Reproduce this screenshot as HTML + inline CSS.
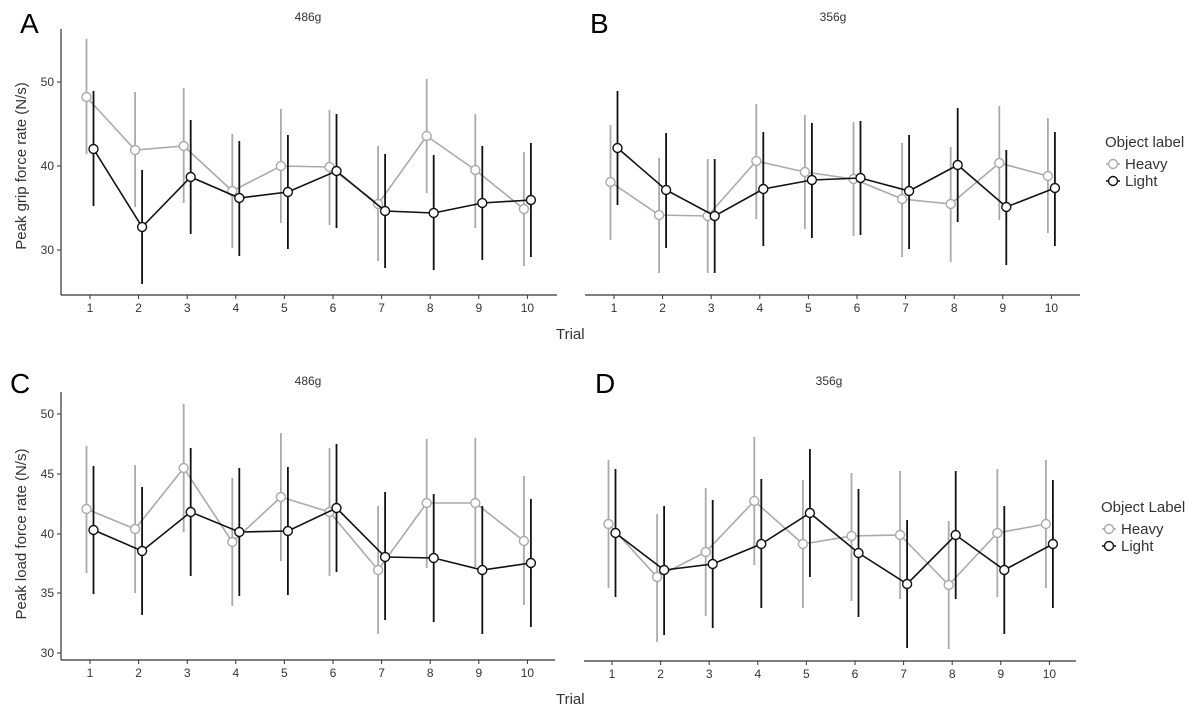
<!DOCTYPE html>
<html><head><meta charset="utf-8"><style>
html,body{margin:0;padding:0;background:#fff;}
svg{display:block;font-family:"Liberation Sans Narrow","Liberation Sans",sans-serif;}
</style></head><body>
<svg id="s" width="1200" height="715" viewBox="0 0 1200 715" xmlns="http://www.w3.org/2000/svg">
<g fill="#000" font-family="Liberation Sans, sans-serif">
<text x="20" y="33" font-size="28">A</text>
<text x="590" y="33" font-size="28">B</text>
<text x="10" y="393" font-size="28">C</text>
<text x="595" y="393" font-size="28">D</text>
</g>
<g font-size="12" fill="#333" text-anchor="middle">
<text x="308" y="21">486g</text>
<text x="833" y="21">356g</text>
<text x="308" y="385">486g</text>
<text x="829" y="385">356g</text>
</g>
<g font-family="Liberation Sans, sans-serif" font-size="15" fill="#333">
<text transform="translate(26,166) rotate(-90)" text-anchor="middle">Peak grip force rate (N/s)</text>
<text transform="translate(26,534) rotate(-90)" text-anchor="middle">Peak load force rate (N/s)</text>
<text x="556" y="339">Trial</text>
<text x="556" y="704">Trial</text>
<text x="1105" y="147">Object label</text>
<text x="1101" y="512">Object Label</text>
<text x="1125" y="169">Heavy</text>
<text x="1125" y="186">Light</text>
<text x="1121" y="534">Heavy</text>
<text x="1121" y="551">Light</text>
</g>
<g id="plots"></g>
</svg>
<script>
var NS="http://www.w3.org/2000/svg",P=document.getElementById("plots");
function el(t,a,txt){var e=document.createElementNS(NS,t);for(var k in a)e.setAttribute(k,a[k]);if(txt!=null)e.textContent=txt;P.appendChild(e);return e;}
function axes(x0,x1,yb,t1,ytop,yt){
  el("line",{x1:x0,y1:yb,x2:x1,y2:yb,stroke:"#333","stroke-width":1.2});
  for(var i=0;i<10;i++){var x=t1+48.6*i;el("line",{x1:x,y1:yb,x2:x,y2:yb+4,stroke:"#333"});
    el("text",{x:x,y:yb+17,"font-size":12,fill:"#333","text-anchor":"middle"},String(i+1));}
  if(ytop!=null){el("line",{x1:x0,y1:ytop,x2:x0,y2:yb,stroke:"#333","stroke-width":1.2});
    yt.forEach(function(p){el("line",{x1:x0-4,y1:p[1],x2:x0,y2:p[1],stroke:"#333"});
      el("text",{x:x0-7,y:p[1]+4,"font-size":12,fill:"#333","text-anchor":"end"},p[0]);});}
}
function series(t1,d,col,off){
  var pts=d.map(function(v,i){return [t1+48.6*i+off,v[0]];});
  d.forEach(function(v,i){var x=pts[i][0];el("line",{x1:x,y1:v[1],x2:x,y2:v[2],stroke:col,"stroke-width":1.8});});
  el("polyline",{points:pts.map(function(p){return p.join(",")}).join(" "),fill:"none",stroke:col,"stroke-width":1.6});
  pts.forEach(function(p){el("circle",{cx:p[0],cy:p[1],r:4.5,fill:"#fff",stroke:col,"stroke-width":1.4});});
}
var H="#aaaaaa",L="#111111";
axes(61,557,295,90,29,[["50",82],["40",166],["30",250]]);
axes(585,1080,295,614);
axes(61,555,660,90,392,[["50",414],["45",474],["40",534],["35",593],["30",653]]);
axes(584,1076,661,612);
series(90,[[97,39,154],[150,92,207],[146,88,203],[191,134,248],[166,109,223],[167,110,225],[204,146,261],[136,79,193],[170,114,228],[209,152,266]],H,-3.5);
series(90,[[149,91,206],[227,170,284],[177,120,234],[198,141,256],[192,135,249],[171,114,228],[211,154,268],[213,155,270],[203,146,260],[200,143,257]],L,3.5);
series(614,[[182,125,240],[215,158,273],[216,159,273],[161,104,219],[172,115,229],[179,122,236],[199,143,257],[204,147,262],[163,106,220],[176,118,233]],H,-3.5);
series(614,[[148,91,205],[190,133,248],[216,159,273],[189,132,246],[180,123,238],[178,121,235],[191,135,249],[165,108,222],[207,150,265],[188,132,246]],L,3.5);
series(90,[[509,446,573],[529,465,593],[468,404,532],[542,478,606],[497,433,561],[512,448,576],[570,506,634],[503,439,568],[503,438,567],[541,476,605]],H,-3.5);
series(90,[[530,466,594],[551,487,615],[512,448,576],[532,468,596],[531,467,595],[508,444,572],[557,492,620],[558,494,622],[570,506,634],[563,499,627]],L,3.5);
series(612,[[524,460,588],[577,514,642],[552,488,616],[501,437,565],[544,480,608],[536,473,601],[535,471,599],[585,521,649],[533,469,597],[524,460,588]],H,-3.5);
series(612,[[533,469,597],[570,506,635],[564,500,628],[544,479,608],[513,449,577],[553,489,617],[584,520,648],[535,471,599],[570,506,634],[544,480,608]],L,3.5);
// legend keys
[[1113,164,H],[1113,181,L],[1109,529,H],[1109,546,L]].forEach(function(k){
  el("line",{x1:k[0]-7,y1:k[1],x2:k[0]+7,y2:k[1],stroke:k[2],"stroke-width":1.6});
  el("circle",{cx:k[0],cy:k[1],r:4.5,fill:"#fff",stroke:k[2],"stroke-width":1.4});});
</script>
</body></html>
